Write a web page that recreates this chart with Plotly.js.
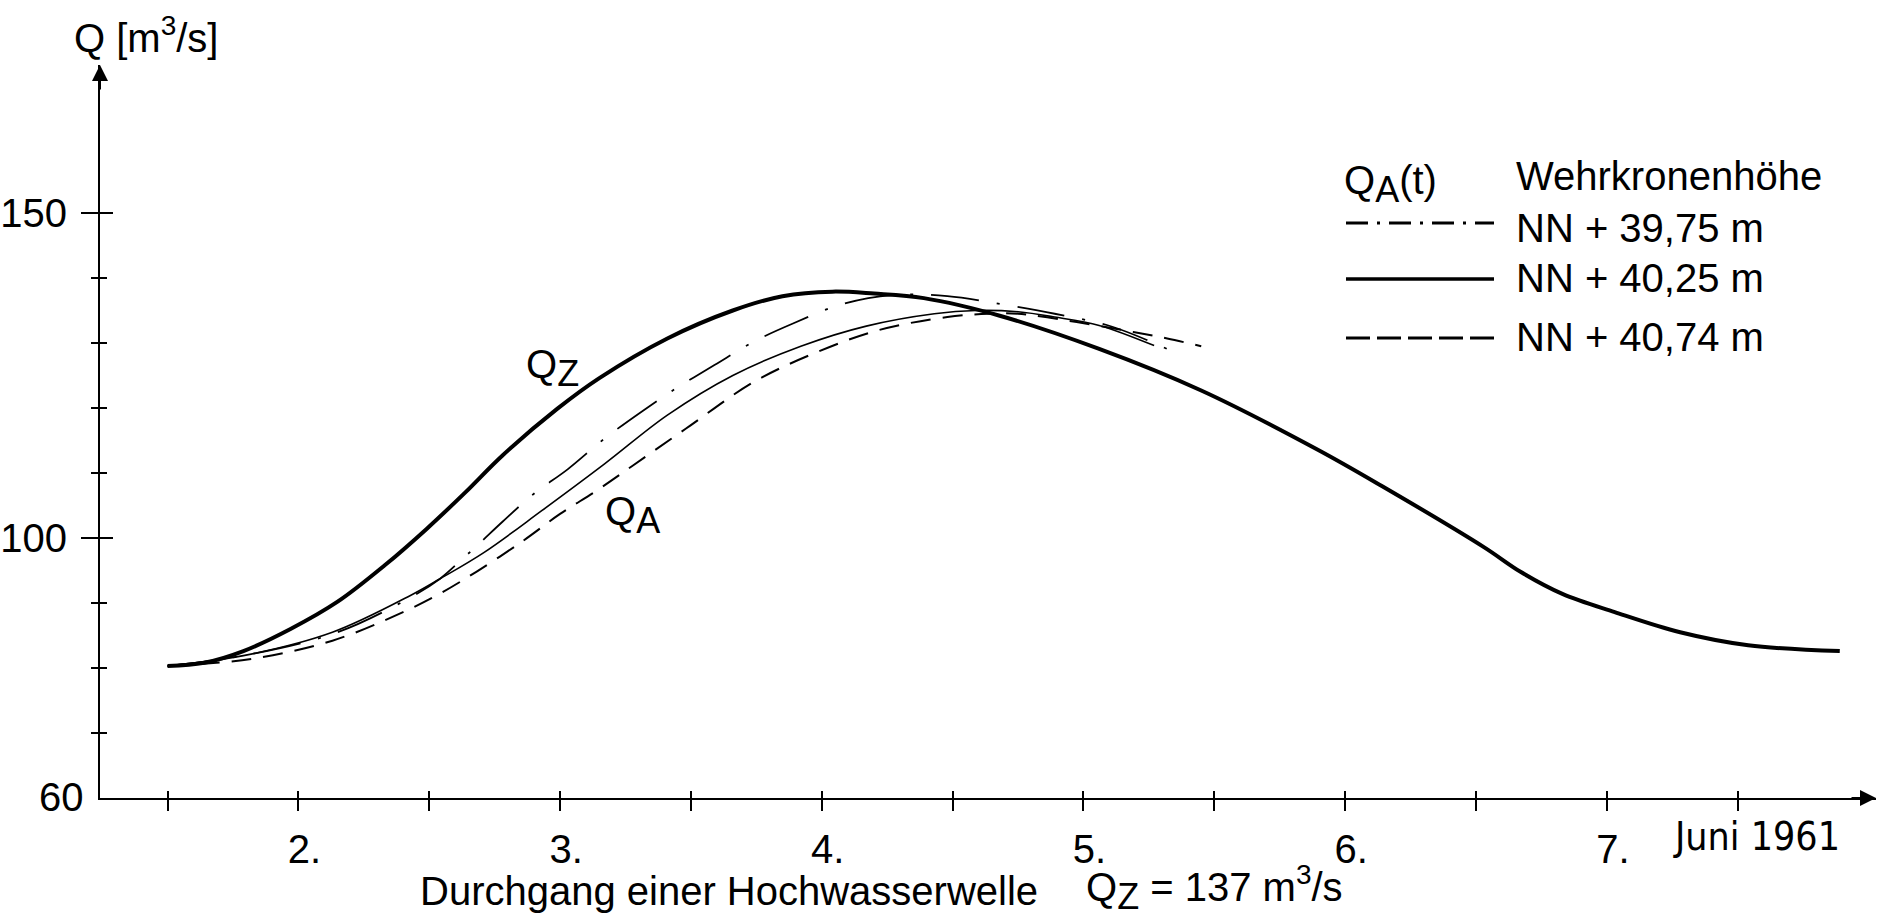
<!DOCTYPE html>
<html><head><meta charset="utf-8">
<script src="https://cdn.plot.ly/plotly-3.0.1.min.js"></script>
<style>html,body{margin:0;padding:0;background:#fff}#chart{width:1882px;height:922px}</style>
</head><body><div id="chart"></div>
<script>
// ---- data (day of June 1961, discharge m3/s) ----
const dayQZ = [1.50,1.64,1.79,1.97,2.15,2.33,2.49,2.64,2.78,2.99,3.15,3.41,3.66,3.85,4.04,4.20,4.39,4.68,5.06,5.45,5.89,6.14,6.53,6.67,6.83,7.03,7.28,7.54,7.89];
const qQZ   = [80.3,80.8,82.6,86.0,90.2,95.8,101.4,107.1,112.7,119.9,124.6,130.7,135.0,137.2,137.9,137.6,136.9,134.2,129.1,122.7,113.7,108.0,98.6,94.8,91.4,88.6,85.5,83.5,82.6];

const day4025 = [1.50,1.79,2.13,2.43,2.54,2.71,2.93,3.17,3.41,3.66,3.92,4.17,4.43,4.59,4.75,4.89,5.06,5.27];
const q4025   = [80.3,81.9,85.5,91.2,93.7,97.8,104.2,111.4,118.9,125.0,129.5,132.6,134.5,135.0,134.8,134.0,132.7,129.6];

const day4074 = [1.50,1.82,2.13,2.40,2.53,2.68,2.86,3.00,3.14,3.28,3.48,3.74,3.97,4.21,4.48,4.64,4.75,5.19,5.32,5.45];
const q4074   = [80.3,81.4,84.2,88.6,91.2,94.8,99.6,103.7,107.3,111.2,116.8,124.0,128.4,131.9,134.0,134.5,134.5,131.7,130.7,129.5];

const day3975 = [1.50,1.79,2.15,2.43,2.54,2.63,2.69,2.78,2.90,3.03,3.17,3.31,3.45,3.59,3.74,3.89,4.08,4.28,4.48,4.71,4.89,5.11,5.33];
const q3975   = [80.3,81.9,85.5,90.9,93.7,96.9,99.1,102.5,106.8,110.6,115.3,119.4,123.2,126.6,130.2,133.0,136.0,137.4,137.2,135.8,134.5,132.5,128.9];

const xTickVals = [2,3,4,5,6,7];
const xTickText = ['2.','3.','4.','5.','6.','7.'];
const xMinorVals = [1.5,2.5,3.5,4.5,5.5,6.5,7.5];
const yTickVals = [100,150];
const yTickText = ['100','150'];
const yMinorVals = [70,80,90,110,120,130,140];

const legendNames = ['NN + 39,75 m','NN + 40,25 m','NN + 40,74 m'];

// ---- layout helpers ----
const W=1882, H=922, M={l:100,r:6,t:65,b:124};
const pw=W-M.l-M.r, ph=H-M.t-M.b;
const px = v => (v-M.l)/pw;
const py = v => (H-M.b-v)/ph;
const FONT = 'Liberation Sans, Arial, Helvetica, sans-serif';
const NARROW = 'Liberation Sans Narrow, DejaVu Sans Condensed, Arial Narrow, sans-serif';
const K = '#000';
const xRange=[1.242, 1.242+pw/261.7];
const yRange=[60, 60+ph/6.5];

const DASHDOT='48px,18px,3px,18px', DASHED='20px,12px';
const SM = 1.0;

const traces = [
  {x:dayQZ, y:qQZ, mode:'lines', name:'Q_Z', line:{color:K,width:4,shape:'spline',smoothing:SM}, hoverinfo:'skip'},
  {x:day4025, y:q4025, mode:'lines', name:legendNames[1], line:{color:K,width:1.6,shape:'spline',smoothing:SM}, hoverinfo:'skip'},
  {x:day4074, y:q4074, mode:'lines', name:legendNames[2], line:{color:K,width:2,dash:DASHED,shape:'spline',smoothing:SM}, hoverinfo:'skip'},
  {x:day3975, y:q3975, mode:'lines', name:legendNames[0], line:{color:K,width:1.8,dash:DASHDOT,shape:'spline',smoothing:SM}, hoverinfo:'skip'},
  {x:[], y:[], xaxis:'x2', yaxis:'y2', mode:'lines', hoverinfo:'skip', showlegend:false}
];

const tickCommon = {tickcolor:K, tickwidth:2, showgrid:false, zeroline:false};

const ann = (text, x, y, opts={}) => Object.assign({
  text, xref:'paper', yref:'paper', x:px(x), y:py(y), xanchor:'left', yanchor:'middle',
  showarrow:false, font:{family:FONT,size:40,color:K}
}, opts);
const bigSub = s => '<sub><span style="font-size:36px">'+s+'</span></sub>';

const annotations = [
  ann('Q [m<sup>3</sup>/s]', 72, 35),
  ann('60', 86, 797, {xanchor:'right'}),
  ann('Q'+bigSub('Z'), 524, 368),
  ann('Q'+bigSub('A'), 603, 515),
  ann('Q'+bigSub('A')+'(t)', 1342, 184),
  ann('Wehrkronenhöhe', 1514, 176),
  ann(legendNames[0], 1514, 228),
  ann(legendNames[1], 1514, 278),
  ann(legendNames[2], 1514, 337),
  ann('Durchgang einer Hochwasserwelle', 418, 891),
  ann('Q'+bigSub('Z')+' = 137 m<sup>3</sup>/s', 1084, 888),
  ann('Juni 1961', 1842, 836, {xanchor:'right', font:{family:NARROW,size:39,color:K}}),
  // axis arrows
  {x:0, y:1, xref:'paper', yref:'paper', ax:0, ay:26, showarrow:true, arrowhead:2, arrowsize:1.6, arrowwidth:2, arrowcolor:K, text:'', standoff:0},
  {x:1, y:0, xref:'paper', yref:'paper', ax:-26, ay:0, showarrow:true, arrowhead:2, arrowsize:1.6, arrowwidth:2, arrowcolor:K, text:'', standoff:0}
];

const shapes = [
  {type:'line', xref:'paper', yref:'paper', x0:px(1346), x1:px(1494), y0:py(223), y1:py(223), line:{color:K,width:3,dash:'22px,9px,3px,9px'}},
  {type:'line', xref:'paper', yref:'paper', x0:px(1346), x1:px(1494), y0:py(279), y1:py(279), line:{color:K,width:3.5}},
  {type:'line', xref:'paper', yref:'paper', x0:px(1346), x1:px(1494), y0:py(338), y1:py(338), line:{color:K,width:3,dash:'24px,7px'}}
];

const layout = {
  width:W, height:H, margin:M, paper_bgcolor:'#fff', plot_bgcolor:'#fff', showlegend:false,
  font:{family:FONT, size:40, color:K},
  xaxis:Object.assign({range:xRange, showline:true, linecolor:K, linewidth:2, ticks:'outside', ticklen:11,
    tickmode:'array', tickvals:xTickVals, ticktext:xTickText, tickfont:{family:FONT,size:40,color:K},
    ticklabelshift:6, ticklabelstandoff:4,
    minor:{tickmode:'array', tickvals:xMinorVals, ticks:'outside', ticklen:11, tickwidth:2, tickcolor:K, showgrid:false}}, tickCommon),
  xaxis2:Object.assign({range:xRange, overlaying:'x', anchor:'y', side:'bottom', showline:false, ticks:'inside', ticklen:7,
    tickmode:'array', tickvals:xTickVals, showticklabels:false,
    minor:{tickmode:'array', tickvals:xMinorVals, ticks:'inside', ticklen:7, tickwidth:2, tickcolor:K, showgrid:false}}, tickCommon),
  yaxis:Object.assign({range:yRange, showline:true, linecolor:K, linewidth:2, ticks:'outside', ticklen:17,
    tickmode:'array', tickvals:yTickVals, ticktext:yTickText, tickfont:{family:FONT,size:40,color:K},
    ticklabelstandoff:6,
    minor:{tickmode:'array', tickvals:yMinorVals, ticks:'outside', ticklen:7, tickwidth:2, tickcolor:K, showgrid:false}}, tickCommon),
  yaxis2:Object.assign({range:yRange, overlaying:'y', anchor:'x', side:'left', showline:false, ticks:'inside', ticklen:13,
    tickmode:'array', tickvals:yTickVals, showticklabels:false,
    minor:{tickmode:'array', tickvals:yMinorVals, ticks:'inside', ticklen:7, tickwidth:2, tickcolor:K, showgrid:false}}, tickCommon),
  annotations, shapes
};

Plotly.newPlot('chart', traces, layout, {staticPlot:true, displayModeBar:false});
</script>
</body></html>
